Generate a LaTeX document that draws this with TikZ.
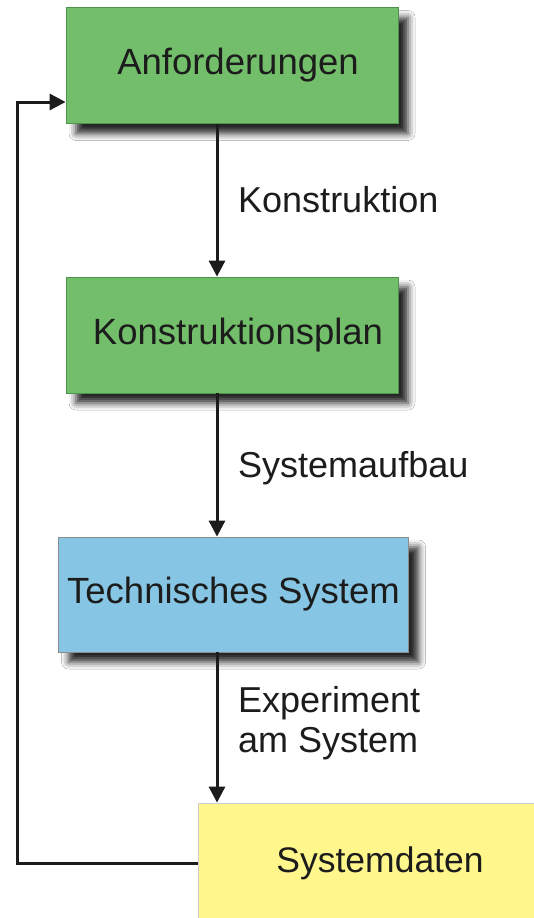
\documentclass[tikz,border=0pt]{standalone}
\usepackage{fontspec}
\setmainfont{Liberation Sans}
\usetikzlibrary{arrows.meta,shadows.blur}
\definecolor{boxgreen}{RGB}{114,190,106}
\definecolor{boxblue}{RGB}{134,198,228}
\definecolor{boxyellow}{RGB}{255,247,140}
\definecolor{inkdark}{RGB}{28,28,28}
\tikzset{
  box/.style={draw=#1, line width=0.8pt, minimum width=332pt, minimum height=116pt,
    inner sep=0pt, font=\fontsize{36.5}{40}\selectfont, text=inkdark,
    blur shadow={shadow xshift=10pt, shadow yshift=-10pt, shadow blur radius=7pt, shadow opacity=85}},
  flow/.style={line width=3pt, draw=inkdark, -{Triangle[length=16pt,width=16pt]}},
  lbl/.style={anchor=west, align=left, inner sep=0pt, text=inkdark,
    font=\fontsize{36}{40}\selectfont}
}
\newcommand{\padleft}{\hspace*{12pt}}
\begin{document}
\begin{tikzpicture}[x=1pt,y=-1pt]
\useasboundingbox (0,0) rectangle (533,918);
\fill[white] (0,0) rectangle (533,918);

% process boxes
\node[box=green!40!black!70, fill=boxgreen] (anf) at (232,65.5) {\padleft Anforderungen};
\node[box=green!40!black!70, fill=boxgreen] (plan) at (232,335) {\padleft Konstruktionsplan};
\node[box=black!45, fill=boxblue, minimum width=350pt, minimum height=115pt] (tech) at (233.5,594.5) {Technisches System};
\node[box=black!20, fill=boxyellow, minimum width=354pt, minimum height=120pt,
      font=\fontsize{35.5}{40}\selectfont] (daten) at (375,863) {\hspace*{10pt}Systemdaten};

% transitions down the chain
\draw[flow] ([xshift=-15pt]anf.south) -- ([xshift=-15pt]plan.north);
\draw[flow] ([xshift=-15pt]plan.south) -- ([xshift=-16.5pt]tech.north);
\draw[flow] ([xshift=-16.5pt]tech.south) -- ([xshift=-158pt]daten.north);

% feedback loop back to the requirements
\coordinate (loopx) at (17,0);
\coordinate (fbin) at ([yshift=-36.5pt]anf.west);
\draw[flow] (daten.west) -| (loopx |- fbin) -- (fbin);

% transition labels
\node[lbl] (l1) at (238,200) {Konstruktion};
\node[lbl] (l2) at (238,468) {Systemaufbau};
\node[lbl] (l3) at (238,723) {Experiment\\am System};
\end{tikzpicture}
\end{document}
